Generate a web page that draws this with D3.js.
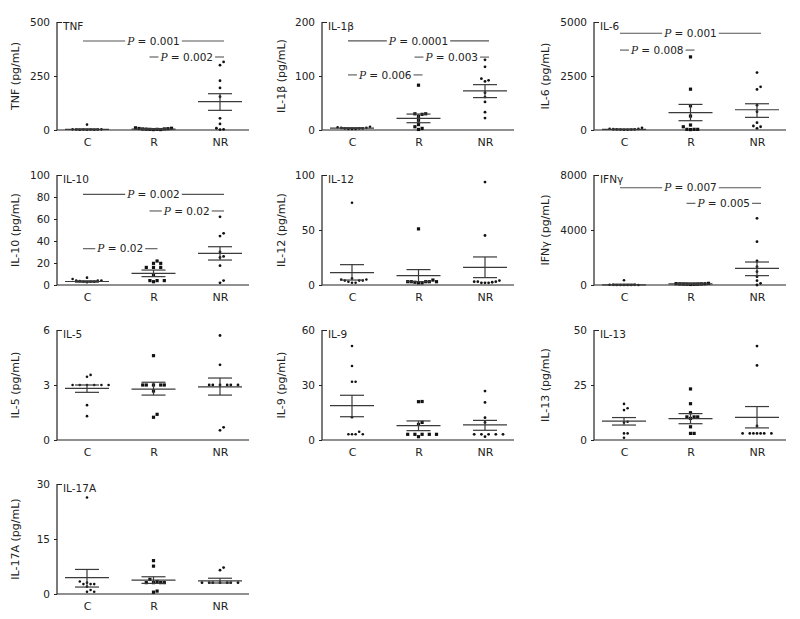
<!DOCTYPE html>
<html><head><meta charset="utf-8">
<script src="https://cdn.jsdelivr.net/npm/d3@7"></script>
<style>body{margin:0;background:#fff} svg{display:block}</style>
</head><body><svg id="chart" width="800" height="619"></svg>
<script>
// ---------------- DATA ----------------
const categories = ["C", "R", "NR"];
const cytokines = ["TNF", "IL-1β", "IL-6", "IL-10", "IL-12", "IFNγ", "IL-5", "IL-9", "IL-13", "IL-17A"];
const yMax = [500, 200, 5000, 100, 100, 8000, 6, 60, 50, 30];
const yTicks = [[0,250,500],[0,100,200],[0,2500,5000],[0,20,40,60,80,100],[0,50,100],[0,4000,8000],[0,3,6],[0,30,60],[0,25,50],[0,15,30]];

// individual values per group [C, R, NR]
const tnfValues = [[2,1,3,2,25,1,2,3,1,2],[3,5,2,8,10,4,6,3,2,5,7],[315,300,228,195,154,54,28,8,3,2]];
const il1bValues = [[3,2,4,5,3,2,6,4,3,2],[83,30,30,29,25,18,10,6,3,1],[130,117,95,92,90,69,61,52,33,22]];
const il6Values = [[20,30,10,50,100,40,20,30,60,10],[3385,1890,1120,646,230,150,30,30,30,20],[2660,2000,1877,1150,846,340,185,150,77]];
const il10Values = [[6.7,5.5,4,4,3.5,3,3,4,3,2.5],[21.8,19.7,19.7,16,16,16,9,4,4,4,3],[62,47,44.5,30,26,25,17.6,4,2]];
const il12Values = [[74.8,6,5,5,4,4,4,2,3,2],[51,4.5,3,3,3,3,2.5,2,2,3],[93.6,45,3,3,2,2,3,2.5,2,4]];
const ifngValues = [[0,20,10,0,350,0,0,10,0,0],[60,80,100,40,120,60,80,50,90,70],[4850,3150,1745,1333,970,606,315,120,0]];
const il5Values = [[3.55,3.45,3,3,3,3,3,3,1.9,1.3],[4.6,3,3,3,3,3,2.67,1.4,1.24],[5.7,4.1,3,3,3,3,3,3,0.69,0.53]];
const il9Values = [[51.3,40.4,31.8,31.8,12.4,4.5,3.1,3.1,3.1,3.1],[20.9,21,9.6,8.5,3.1,3.1,3.1,3.1,3.1,1.8],[26.7,20.5,12.2,9.6,3.1,3.1,3.1,3.1,3.1,1.8]];
const il13Values = [[16.4,14.4,13.6,8.3,7.9,3,3,1],[23.2,16.5,12.4,10.5,10.5,10.5,9.8,6,3,3],[42.7,33.9,6.4,3,3,3,3,3,3,3]];
const il17aValues = [[26.3,3.4,3.1,2.7,2.7,2,1.1,0.6,2.7,0.6],[9.1,7.6,4,3.4,3.1,3.1,3.1,3.1,0.8,0.5],[7.2,6.5,3.1,3.1,3.1,3.1,3.1,3.1,3.1]];
const allValues = [tnfValues, il1bValues, il6Values, il10Values, il12Values, ifngValues, il5Values, il9Values, il13Values, il17aValues];

// mean and SEM bounds per group [C, R, NR]
const means = [[3,4,131],[3.4,21.5,72.6],[30,800,938],[3.2,10.6,28.8],[11.2,8.5,16],[10,80,1212],[2.82,2.78,2.9],[18.7,7.8,8.2],[8.6,9.7,10.3],[4.45,3.8,3.6]];
const semUpper = [[5,6,168],[4,29.5,84],[45,1185,1215],[3.8,13.6,34.8],[18.5,14,25.5],[60,150,1672],[3.0,3.15,3.38],[24.4,10.4,10.7],[10.2,12,15.2],[6.7,4.7,4.3]];
const semLower = [[1,2,91],[2.8,13.5,60],[15,430,585],[2.6,7.6,22.7],[4.5,3,6.7],[0,30,680],[2.6,2.45,2.45],[12.7,5.1,5.3],[6.8,7.4,5.5],[1.9,2.9,3.0]];

// significance annotations: [from, to, y value, P]
const tnfSig = [["C","NR",412,"0.001"],["R","NR",338,"0.002"]];
const il1bSig = [["C","NR",165,"0.0001"],["R","NR",135,"0.003"],["C","R",102,"0.006"]];
const il6Sig = [["C","NR",4477,"0.001"],["C","R",3700,"0.008"]];
const il10Sig = [["C","NR",82.4,"0.002"],["R","NR",67.3,"0.02"],["C","R",33,"0.02"]];
const ifngSig = [["C","NR",7078,"0.007"],["R","NR",5940,"0.005"]];
const allSig = [tnfSig, il1bSig, il6Sig, il10Sig, [], ifngSig, [], [], [], []];

// ---------------- LAYOUT ----------------
const colAxisX = [57, 322, 594];
const colLabelX = [15, 281, 545];
const rowTop = [22, 175, 330, 484];
const rowZero = [130, 285, 440, 594];
const axisLen = 192;
const FONT = "'DejaVu Sans', Verdana, sans-serif";

const svg = d3.select("#chart");

function swarm(vals, y, cx, d) {
  const pts = vals.map(v => ({v, py: y(v)})).sort((a, b) => b.py - a.py);
  const placed = [];
  pts.forEach(p => {
    for (let k = 0; k < 60; k++) {
      const off = k === 0 ? 0 : (k % 2 ? Math.ceil(k / 2) : -Math.ceil(k / 2)) * d;
      const ok = placed.every(q => Math.hypot(q.px - (cx + off), q.py - p.py) >= d);
      if (ok) { p.px = cx + off; placed.push(p); break; }
    }
  });
  return placed;
}

cytokines.forEach((name, i) => {
  const col = i % 3, row = Math.floor(i / 3);
  const ax = colAxisX[col];
  const y = d3.scaleLinear().domain([0, yMax[i]]).range([rowZero[row], rowTop[row]]);
  const x = d3.scalePoint().domain(categories).range([ax + 30, ax + 163]);
  const g = svg.append("g");

  // y axis
  const yAxis = d3.axisLeft(y).tickValues(yTicks[i]).tickSize(3).tickPadding(4).tickFormat(d3.format("d"));
  const ya = g.append("g").attr("transform", `translate(${ax},0)`).call(yAxis);
  ya.select(".domain").attr("d", `M0,${rowTop[row]}V${rowZero[row]}`).attr("stroke", "#222").attr("stroke-width", 1.2);
  ya.selectAll(".tick line").attr("stroke", "#222");
  ya.selectAll(".tick").filter(d => d === yMax[i]).select("line").attr("x2", 5);
  ya.selectAll(".tick text").attr("font-family", FONT).attr("font-size", 10.5).attr("fill", "#222");

  // x axis
  const xAxis = d3.axisBottom(x).tickSize(0).tickPadding(8);
  const xa = g.append("g").attr("transform", `translate(0,${rowZero[row]})`).call(xAxis);
  xa.select(".domain").attr("d", `M${ax},0H${ax + axisLen}`).attr("stroke", "#222").attr("stroke-width", 1.2);
  xa.selectAll(".tick text").attr("font-family", FONT).attr("font-size", 11).attr("fill", "#222");

  // y label
  g.append("text").attr("transform", `translate(${colLabelX[col]},${(rowTop[row] + rowZero[row]) / 2}) rotate(-90)`)
    .attr("text-anchor", "middle").attr("dy", "0.35em").attr("font-family", FONT).attr("font-size", 11).attr("fill", "#222")
    .text(`${name} (pg/mL)`);

  // title
  g.append("text").attr("x", ax + 6).attr("y", rowTop[row] + 8).attr("font-family", FONT).attr("font-size", 10.5)
    .attr("fill", "#222").text(name);

  // points
  categories.forEach((c, j) => {
    const pts = swarm(allValues[i][j], y, x(c), 3.6);
    if (j === 1) {
      g.selectAll(null).data(pts).enter().append("rect")
        .attr("x", d => d.px - 1.6).attr("y", d => d.py - 1.6).attr("width", 3.2).attr("height", 3.2).attr("fill", "#111");
    } else {
      g.selectAll(null).data(pts).enter().append("circle")
        .attr("cx", d => d.px).attr("cy", d => d.py).attr("r", j === 0 ? 1.3 : 1.4).attr("fill", "#111");
    }
    // mean / SEM
    const cx = x(c);
    const lc = "#3a3a3a";
    g.append("line").attr("x1", cx - 22).attr("x2", cx + 22).attr("y1", y(means[i][j])).attr("y2", y(means[i][j])).attr("stroke", lc).attr("stroke-width", 1.2);
    g.append("line").attr("x1", cx - 12).attr("x2", cx + 12).attr("y1", y(semUpper[i][j])).attr("y2", y(semUpper[i][j])).attr("stroke", lc).attr("stroke-width", 1.2);
    g.append("line").attr("x1", cx - 12).attr("x2", cx + 12).attr("y1", y(semLower[i][j])).attr("y2", y(semLower[i][j])).attr("stroke", lc).attr("stroke-width", 1.2);
    g.append("line").attr("x1", cx).attr("x2", cx).attr("y1", y(semUpper[i][j])).attr("y2", y(semLower[i][j])).attr("stroke", lc).attr("stroke-width", 1.2);
  });

  // significance
  allSig[i].forEach(s => {
    const x1 = x(s[0]) - 4, x2 = x(s[1]) + 4, yy = y(s[2]);
    const t = g.append("text").attr("x", (x1 + x2) / 2).attr("y", yy).attr("dy", "0.35em").attr("text-anchor", "middle")
      .attr("font-family", FONT).attr("font-size", 10.5).attr("fill", "#222");
    t.append("tspan").attr("font-style", "italic").attr("font-family", "'DejaVu Serif', serif").text("P");
    t.append("tspan").text(" = " + s[3]);
    const w = t.node().getComputedTextLength();
    const mid = (x1 + x2) / 2;
    g.append("line").attr("x1", x1).attr("x2", mid - w / 2 - 2).attr("y1", yy).attr("y2", yy).attr("stroke", "#555").attr("stroke-width", 1.1);
    g.append("line").attr("x1", mid + w / 2 + 2).attr("x2", x2).attr("y1", yy).attr("y2", yy).attr("stroke", "#555").attr("stroke-width", 1.1);
  });
});
</script>
</body></html>
